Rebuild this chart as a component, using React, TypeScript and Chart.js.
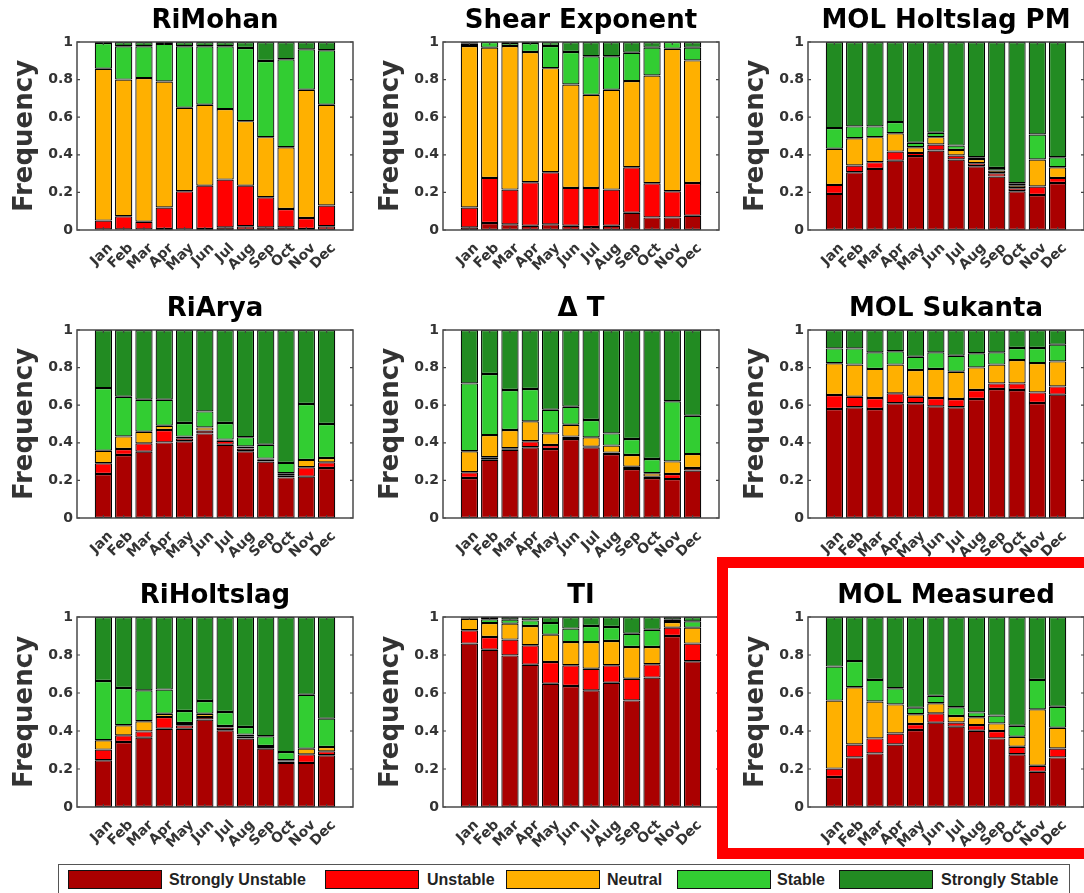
import React, { useEffect, useRef } from 'react';
import { Chart, registerables } from 'chart.js';

Chart.register(...registerables);

const FONT = '"Liberation Sans", Arial, Helvetica, sans-serif';
const WIDE_FONT = '"DejaVu Sans", "Liberation Sans", Arial, sans-serif';
Chart.defaults.font.family = WIDE_FONT;

// ---- shared labels / categories ----
const months = ['Jan', 'Feb', 'Mar', 'Apr', 'May', 'Jun', 'Jul', 'Aug', 'Sep', 'Oct', 'Nov', 'Dec'];
const seriesNames = ['Strongly Unstable', 'Unstable', 'Neutral', 'Stable', 'Strongly Stable'];
const seriesColors = ['#AA0000', '#FF0000', '#FFB000', '#32CD32', '#228B22'];
const yTicks = [0, 0.2, 0.4, 0.6, 0.8, 1];
const yTickLabels = ['0', '0.2', '0.4', '0.6', '0.8', '1'];
const yAxisTitle = 'Frequency';

// ---- RiMohan ----
const riMohanSU = [0.003, 0.003, 0.003, 0.005, 0.003, 0.005, 0.014, 0.02, 0.014, 0.014, 0.005, 0.02];
const riMohanU = [0.047, 0.07, 0.041, 0.115, 0.203, 0.231, 0.254, 0.216, 0.16, 0.098, 0.059, 0.11];
const riMohanN = [0.808, 0.727, 0.764, 0.67, 0.444, 0.43, 0.375, 0.343, 0.32, 0.328, 0.682, 0.536];
const riMohanS = [0.137, 0.177, 0.169, 0.2, 0.327, 0.311, 0.334, 0.389, 0.405, 0.468, 0.215, 0.29];
const riMohanSS = [0.005, 0.023, 0.023, 0.01, 0.023, 0.023, 0.023, 0.032, 0.101, 0.092, 0.039, 0.044];

// ---- Shear Exponent ----
const shearSU = [0.014, 0.037, 0.03, 0.023, 0.03, 0.023, 0.016, 0.023, 0.092, 0.067, 0.067, 0.076];
const shearU = [0.106, 0.24, 0.185, 0.231, 0.277, 0.201, 0.208, 0.192, 0.242, 0.182, 0.139, 0.174];
const shearN = [0.859, 0.693, 0.764, 0.693, 0.554, 0.55, 0.495, 0.531, 0.458, 0.573, 0.758, 0.652];
const shearS = [0.012, 0.03, 0.016, 0.048, 0.118, 0.173, 0.205, 0.178, 0.151, 0.148, 0.036, 0.068];
const shearSS = [0.009, 0, 0.005, 0.005, 0.021, 0.053, 0.076, 0.076, 0.057, 0.03, 0, 0.03];

// ---- MOL Holtslag PM ----
const holtPmSU = [0.192, 0.307, 0.325, 0.369, 0.393, 0.423, 0.375, 0.339, 0.284, 0.206, 0.186, 0.25];
const holtPmU = [0.048, 0.036, 0.036, 0.048, 0.017, 0.032, 0.021, 0.016, 0.018, 0.016, 0.045, 0.027];
const holtPmN = [0.192, 0.145, 0.133, 0.098, 0.03, 0.039, 0.03, 0.023, 0.014, 0.014, 0.144, 0.057];
const holtPmS = [0.11, 0.063, 0.057, 0.059, 0.024, 0.023, 0.023, 0.009, 0.014, 0.013, 0.133, 0.053];
const holtPmSS = [0.458, 0.449, 0.449, 0.426, 0.536, 0.483, 0.551, 0.613, 0.67, 0.751, 0.492, 0.613];

// ---- RiArya ----
const riAryaSU = [0.234, 0.335, 0.353, 0.402, 0.408, 0.45, 0.39, 0.355, 0.3, 0.216, 0.22, 0.266];
const riAryaU = [0.057, 0.032, 0.044, 0.066, 0.016, 0.015, 0.021, 0.015, 0.012, 0.009, 0.05, 0.03];
const riAryaN = [0.067, 0.067, 0.062, 0.023, 0.009, 0.017, 0.006, 0.01, 0.004, 0.013, 0.039, 0.023];
const riAryaS = [0.333, 0.211, 0.17, 0.138, 0.072, 0.085, 0.088, 0.05, 0.074, 0.055, 0.297, 0.181];
const riAryaSS = [0.309, 0.355, 0.371, 0.371, 0.495, 0.433, 0.495, 0.57, 0.61, 0.707, 0.394, 0.5];

// ---- Delta T ----
const deltaTSU = [0.213, 0.31, 0.363, 0.376, 0.367, 0.42, 0.376, 0.34, 0.261, 0.213, 0.207, 0.252];
const deltaTU = [0.03, 0.013, 0.008, 0.032, 0.021, 0.013, 0.003, 0.008, 0.012, 0.007, 0.027, 0.014];
const deltaTN = [0.112, 0.118, 0.097, 0.106, 0.062, 0.063, 0.05, 0.037, 0.062, 0.018, 0.067, 0.074];
const deltaTS = [0.361, 0.325, 0.213, 0.172, 0.126, 0.096, 0.092, 0.065, 0.085, 0.076, 0.32, 0.204];
const deltaTSS = [0.284, 0.234, 0.319, 0.314, 0.424, 0.408, 0.479, 0.55, 0.58, 0.686, 0.379, 0.456];

// ---- MOL Sukanta ----
const sukantaSU = [0.58, 0.589, 0.58, 0.61, 0.61, 0.594, 0.589, 0.633, 0.686, 0.681, 0.612, 0.656];
const sukantaU = [0.074, 0.056, 0.058, 0.053, 0.035, 0.044, 0.044, 0.048, 0.03, 0.035, 0.056, 0.044];
const sukantaN = [0.169, 0.171, 0.155, 0.153, 0.142, 0.155, 0.145, 0.12, 0.1, 0.124, 0.156, 0.133];
const sukantaS = [0.079, 0.086, 0.088, 0.071, 0.071, 0.088, 0.085, 0.075, 0.065, 0.064, 0.08, 0.089];
const sukantaSS = [0.098, 0.098, 0.119, 0.113, 0.142, 0.119, 0.137, 0.124, 0.119, 0.096, 0.096, 0.078];

// ---- RiHoltslag ----
const riHoltSU = [0.246, 0.342, 0.365, 0.412, 0.412, 0.46, 0.404, 0.36, 0.307, 0.232, 0.232, 0.272];
const riHoltU = [0.056, 0.035, 0.033, 0.062, 0.018, 0.014, 0.014, 0.01, 0.009, 0.008, 0.045, 0.021];
const riHoltN = [0.049, 0.053, 0.053, 0.017, 0.012, 0.017, 0.008, 0.011, 0.005, 0.006, 0.03, 0.023];
const riHoltS = [0.312, 0.196, 0.163, 0.127, 0.063, 0.067, 0.074, 0.04, 0.051, 0.043, 0.284, 0.149];
const riHoltSS = [0.337, 0.374, 0.386, 0.382, 0.495, 0.442, 0.5, 0.579, 0.628, 0.711, 0.409, 0.535];

// ---- TI ----
const tiSU = [0.86, 0.828, 0.798, 0.749, 0.649, 0.637, 0.614, 0.654, 0.561, 0.681, 0.9, 0.767];
const tiU = [0.07, 0.067, 0.083, 0.102, 0.114, 0.109, 0.114, 0.092, 0.114, 0.07, 0.044, 0.093];
const tiN = [0.061, 0.073, 0.084, 0.102, 0.144, 0.122, 0.14, 0.128, 0.167, 0.091, 0.03, 0.084];
const tiS = [0.005, 0.02, 0.021, 0.029, 0.061, 0.071, 0.085, 0.073, 0.07, 0.091, 0.012, 0.033];
const tiSS = [0.004, 0.012, 0.014, 0.018, 0.032, 0.061, 0.047, 0.053, 0.088, 0.067, 0.014, 0.023];

// ---- MOL Measured ----
const measSU = [0.158, 0.261, 0.282, 0.329, 0.405, 0.444, 0.423, 0.401, 0.361, 0.278, 0.185, 0.261];
const measU = [0.044, 0.068, 0.079, 0.058, 0.032, 0.049, 0.022, 0.03, 0.039, 0.039, 0.032, 0.047];
const measN = [0.358, 0.301, 0.194, 0.153, 0.051, 0.053, 0.034, 0.041, 0.04, 0.053, 0.297, 0.109];
const measS = [0.179, 0.138, 0.114, 0.085, 0.035, 0.039, 0.046, 0.026, 0.041, 0.058, 0.155, 0.111];
const measSS = [0.261, 0.232, 0.331, 0.375, 0.477, 0.415, 0.475, 0.502, 0.519, 0.572, 0.331, 0.472];

type PanelSpec = { title: string; series: number[][]; col: number; row: number };

const panels: PanelSpec[] = [
  { title: 'RiMohan', series: [riMohanSU, riMohanU, riMohanN, riMohanS, riMohanSS], col: 0, row: 0 },
  { title: 'Shear Exponent', series: [shearSU, shearU, shearN, shearS, shearSS], col: 1, row: 0 },
  { title: 'MOL Holtslag PM', series: [holtPmSU, holtPmU, holtPmN, holtPmS, holtPmSS], col: 2, row: 0 },
  { title: 'RiArya', series: [riAryaSU, riAryaU, riAryaN, riAryaS, riAryaSS], col: 0, row: 1 },
  { title: '\u0394 T', series: [deltaTSU, deltaTU, deltaTN, deltaTS, deltaTSS], col: 1, row: 1 },
  { title: 'MOL Sukanta', series: [sukantaSU, sukantaU, sukantaN, sukantaS, sukantaSS], col: 2, row: 1 },
  { title: 'RiHoltslag', series: [riHoltSU, riHoltU, riHoltN, riHoltS, riHoltSS], col: 0, row: 2 },
  { title: 'TI', series: [tiSU, tiU, tiN, tiS, tiSS], col: 1, row: 2 },
  { title: 'MOL Measured', series: [measSU, measU, measN, measS, measSS], col: 2, row: 2 },
];

// ---- layout ----
const COL_X = [0, 366, 731];
const ROW_Y = [0, 288, 575];
const PLOT_H = [188, 188, 190];
const CANVAS_W = 355;
const CANVAS_H = 280;
const TITLE_BOX = 42;
const TITLE_SIZE = 26;
const Y_AXIS_W = 77;
const AXIS_COLOR = '#333333';

const boxPlugin = {
  id: 'matlabBox',
  afterDraw(chart: any) {
    const { ctx, chartArea } = chart;
    const { left, right, top, bottom } = chartArea;
    const ys = chart.scales.y;
    const xs = chart.scales.x;
    ctx.save();
    ctx.strokeStyle = '#444444';
    ctx.lineWidth = 1.2;
    ctx.beginPath();
    yTicks.forEach((v) => {
      const py = ys.getPixelForValue(v);
      ctx.moveTo(left, py);
      ctx.lineTo(left + 3, py);
      ctx.moveTo(right, py);
      ctx.lineTo(right - 3, py);
    });
    months.forEach((_, i) => {
      const px = xs.getPixelForValue(i + 1);
      ctx.moveTo(px, bottom);
      ctx.lineTo(px, bottom - 3);
      ctx.moveTo(px, top);
      ctx.lineTo(px, top + 3);
    });
    ctx.stroke();
    ctx.lineWidth = 1.5;
    ctx.strokeStyle = '#4a4a4a';
    ctx.strokeRect(left, top, right - left, bottom - top);
    ctx.restore();
  },
};

function Panel({ p }: { p: PanelSpec }) {
  const ref = useRef<HTMLCanvasElement | null>(null);
  useEffect(() => {
    const canvas = ref.current;
    if (!canvas) return;
    const plotH = PLOT_H[p.row];
    const titleLine = TITLE_SIZE * 1.2;
    const chart = new Chart(canvas, {
      type: 'bar',
      data: {
        datasets: p.series.map((vals, k) => ({
          label: seriesNames[k],
          data: vals.map((v, i) => ({ x: i + 1, y: v })),
          backgroundColor: seriesColors[k],
          borderColor: '#000000',
          borderWidth: 1.2,
          borderSkipped: false,
          barPercentage: 0.85,
          categoryPercentage: 1,
        })),
      },
      options: {
        animation: false,
        responsive: false,
        devicePixelRatio: 1,
        layout: { padding: { left: 0, right: 2, top: 0, bottom: 0 } },
        plugins: {
          legend: { display: false },
          tooltip: { enabled: false },
          title: {
            display: true,
            text: p.title,
            color: '#000000',
            fullSize: false,
            font: { size: TITLE_SIZE, weight: 'bold', family: WIDE_FONT, lineHeight: 1.2 },
            padding: { top: 6, bottom: TITLE_BOX - 6 - titleLine },
          },
        },
        scales: {
          x: {
            type: 'linear',
            stacked: true,
            min: -0.3,
            max: 13.3,
            offset: false,
            grid: { display: false, drawTicks: false },
            border: { display: false },
            afterBuildTicks: (axis: any) => {
              axis.ticks = months.map((_, i) => ({ value: i + 1 }));
            },
            afterFit: (axis: any) => {
              axis.height = CANVAS_H - TITLE_BOX - plotH;
            },
            ticks: {
              autoSkip: false,
              minRotation: 45,
              maxRotation: 45,
              padding: 10,
              labelOffset: 7,
              color: AXIS_COLOR,
              font: { size: 14, weight: 'bold', family: WIDE_FONT },
              callback: (value: any) => months[Math.round(Number(value)) - 1] ?? '',
            },
          },
          y: {
            stacked: true,
            min: 0,
            max: 1,
            grid: { display: false, drawTicks: false },
            border: { display: false },
            afterBuildTicks: (axis: any) => {
              axis.ticks = yTicks.map((v) => ({ value: v }));
            },
            afterFit: (axis: any) => {
              axis.width = Y_AXIS_W;
            },
            ticks: {
              padding: 4,
              color: AXIS_COLOR,
              font: { size: 14, weight: 'bold', family: WIDE_FONT },
              callback: (_v: any, i: number) => yTickLabels[i],
            },
            title: {
              display: true,
              text: yAxisTitle,
              color: AXIS_COLOR,
              font: { size: 26, weight: 'bold', family: WIDE_FONT, lineHeight: 1.2 },
              padding: { top: 10, bottom: 0 },
            },
          },
        },
      } as any,
      plugins: [boxPlugin],
    });
    return () => chart.destroy();
  }, [p]);
  return (
    <canvas
      ref={ref}
      width={CANVAS_W}
      height={CANVAS_H}
      style={{
        position: 'absolute',
        left: COL_X[p.col],
        top: ROW_Y[p.row],
        width: CANVAS_W,
        height: CANVAS_H,
      }}
    />
  );
}

const legendSwatchX = [67, 324, 505, 676, 838];
const legendTextX = [168, 426, 606, 776, 940];

function Legend() {
  return (
    <div
      style={{
        position: 'absolute',
        left: 58,
        top: 864,
        width: 1012,
        height: 40,
        border: '1px solid #555555',
        boxSizing: 'border-box',
        background: '#ffffff',
      }}
    >
      {seriesNames.map((name, k) => (
        <React.Fragment key={name}>
          <div
            style={{
              position: 'absolute',
              left: legendSwatchX[k] - 58,
              top: 5,
              width: 94,
              height: 19,
              background: seriesColors[k],
              border: '1px solid #111111',
              boxSizing: 'border-box',
            }}
          />
          <div
            style={{
              position: 'absolute',
              left: legendTextX[k] - 58,
              top: 5,
              height: 20,
              lineHeight: '20px',
              fontFamily: FONT,
              fontWeight: 'bold',
              fontSize: 16,
              color: '#222222',
              whiteSpace: 'nowrap',
            }}
          >
            {name}
          </div>
        </React.Fragment>
      ))}
    </div>
  );
}

export default function App() {
  return (
    <div
      style={{
        position: 'absolute',
        left: 0,
        top: 0,
        width: 1084,
        height: 893,
        overflow: 'hidden',
        background: '#ffffff',
      }}
    >
      {panels.map((p) => (
        <Panel key={p.title} p={p} />
      ))}
      <div
        style={{
          position: 'absolute',
          left: 717,
          top: 557,
          width: 420,
          height: 302,
          border: '11px solid #FF0000',
          boxSizing: 'border-box',
        }}
      />
      <Legend />
    </div>
  );
}
